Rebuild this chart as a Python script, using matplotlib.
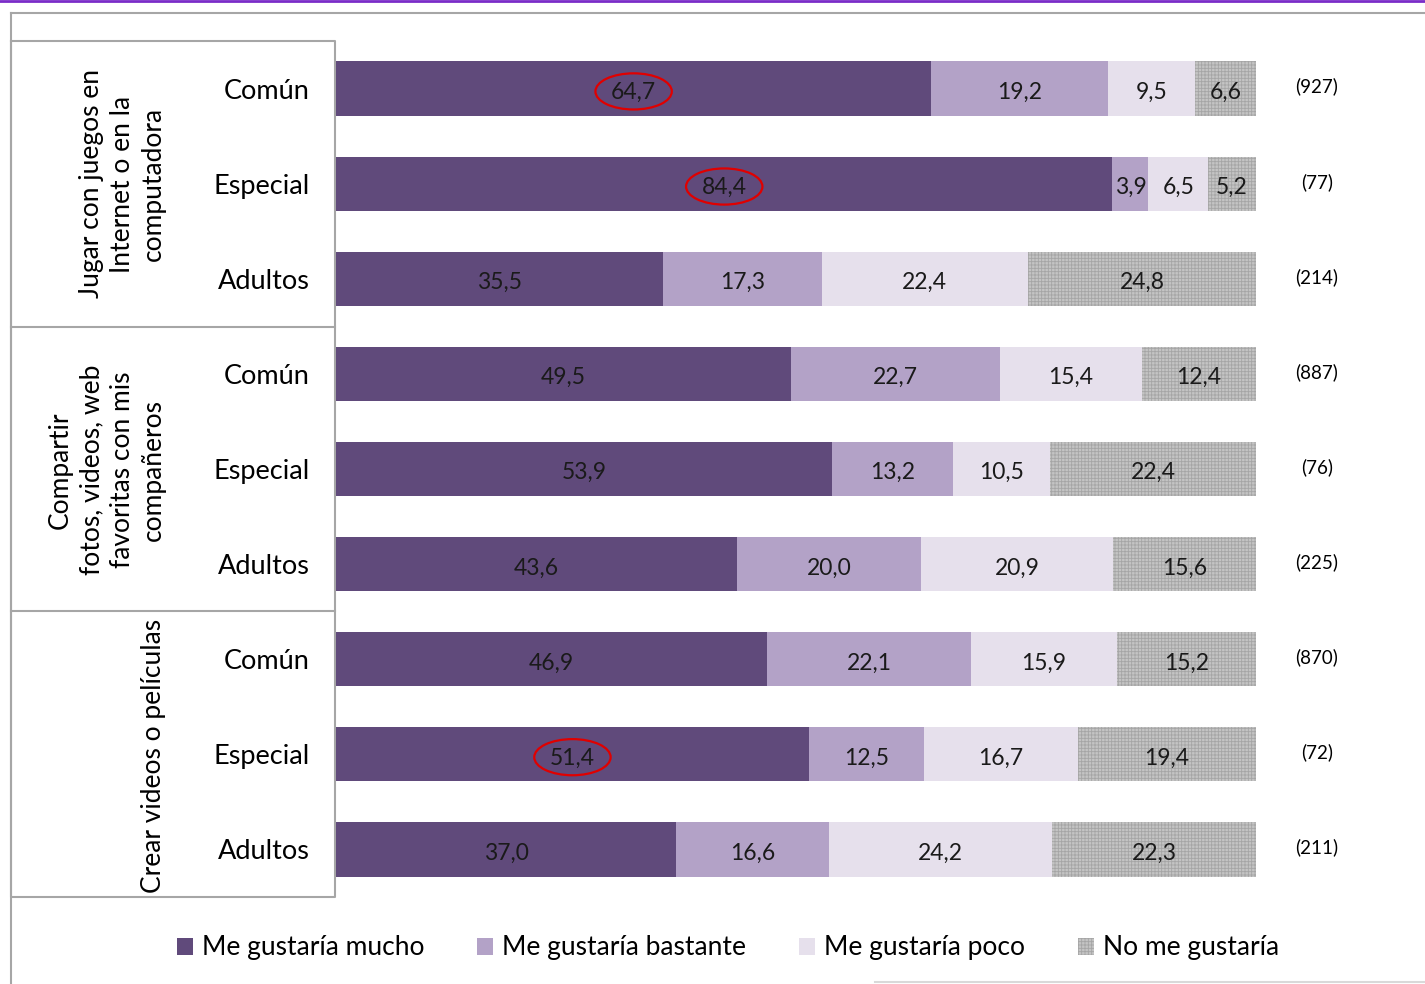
import matplotlib.pyplot as plt
from matplotlib.patches import Ellipse, Patch
import numpy as np

plt.rcParams['font.family'] = ['Lato', 'DejaVu Sans']
plt.rcParams['hatch.linewidth'] = 0.6

# data
rows = ['Común', 'Especial', 'Adultos'] * 3
groups = ['Jugar con juegos en\nInternet o en la\ncomputadora',
          'Compartir\nfotos, videos, web\nfavoritas con mis\ncompañeros',
          'Crear videos o películas']
series = ['Me gustaría mucho', 'Me gustaría bastante', 'Me gustaría poco', 'No me gustaría']
mucho = [64.7, 84.4, 35.5, 49.5, 53.9, 43.6, 46.9, 51.4, 37.0]
bastante = [19.2, 3.9, 17.3, 22.7, 13.2, 20.0, 22.1, 12.5, 16.6]
poco = [9.5, 6.5, 22.4, 15.4, 10.5, 20.9, 15.9, 16.7, 24.2]
nada = [6.6, 5.2, 24.8, 12.4, 22.4, 15.6, 15.2, 19.4, 22.3]
n_total = ['(927)', '(77)', '(214)', '(887)', '(76)', '(225)', '(870)', '(72)', '(211)']
circled = [0, 1, 7]  # rows where "mucho" value is circled

colors = ['#604A7B', '#B3A2C7', '#E6E0EC', '#C4C4C4']
W, H = 1425, 984

fig = plt.figure(figsize=(W / 100, H / 100), dpi=100)

# decoration layer in pixel coords
deco = fig.add_axes([0, 0, 1, 1])
deco.set_xlim(0, W)
deco.set_ylim(H, 0)
deco.axis('off')
gray = '#A6A6A6'
deco.plot([0, W], [1, 1], color='#7A2CC8', lw=2)
deco.plot([11, W], [13, 13], color=gray, lw=1.5)
deco.plot([11, 11], [13, H], color=gray, lw=1.5)
deco.plot([11, 335, 335, 11, 11], [41, 41, 897, 897, 41], color=gray, lw=1.5)
deco.plot([11, 335], [327, 327], color=gray, lw=1.5)
deco.plot([11, 335], [611, 611], color=gray, lw=1.5)
deco.plot([875, W], [982, 982], color='#D9D9D9', lw=1.5)
for g, yc in zip(groups, [184, 470, 756]):
    deco.text(166, yc, g, rotation=90, ha='right', va='center',
              multialignment='center', fontsize=19, linespacing=1.3)

# main bars
ax = fig.add_axes([336 / W, 1 - 897 / H, 920 / W, 856 / H])
y = np.arange(len(rows))
left = np.zeros(len(rows))
vals = [mucho, bastante, poco, nada]
for i, v in enumerate(vals):
    v = np.array(v)
    kw = dict(hatch='+++++', edgecolor='#A5A5A5', linewidth=0) if i == 3 else dict(linewidth=0)
    ax.barh(y, v, left=left, height=0.57, color=colors[i], **kw)
    for yy, l, val in zip(y, left, v):
        ax.text(l + val / 2, yy + 0.04, f'{val:.1f}'.replace('.', ','),
                ha='center', va='center', fontsize=16.5, color='#1a1a1a')
    left = left + v

for r in circled:
    ax.add_patch(Ellipse((mucho[r] / 2, r + 0.03), 8.3, 0.38, fill=False,
                         edgecolor='#E00000', lw=1.6))

for yy, t in zip(y, n_total):
    ax.text(106.6, yy - 0.02, t, ha='center', va='center', fontsize=13.5)

ax.set_xlim(0, 100)
ax.set_ylim(len(rows) - 0.5, -0.5)
ax.set_yticks(y)
ax.set_yticklabels(rows, fontsize=19.5)
ax.tick_params(axis='y', length=0, pad=19)
ax.set_xticks([])
for s in ax.spines.values():
    s.set_visible(False)
ax.patch.set_alpha(0)

handles = [Patch(facecolor=colors[0]), Patch(facecolor=colors[1]),
           Patch(facecolor=colors[2]),
           Patch(facecolor=colors[3], hatch='+++++', edgecolor='#A5A5A5', linewidth=0)]
fig.legend(handles, series, loc='center', bbox_to_anchor=(728 / W, 1 - 948 / H),
           ncol=4, frameon=False, fontsize=19, handlelength=0.6, handleheight=0.6,
           handletextpad=0.35, columnspacing=2.0)

fig.savefig('out.png', dpi=100)
